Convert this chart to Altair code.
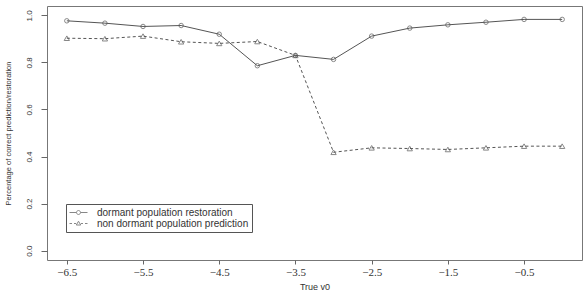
import altair as alt
import pandas as pd

# ---- data ----
true_v0 = [-6.5, -6.0, -5.5, -5.0, -4.5, -4.0, -3.5, -3.0, -2.5, -2.0, -1.5, -1.0, -0.5, 0.0]
restoration = [0.977, 0.967, 0.953, 0.957, 0.920, 0.786, 0.830, 0.813, 0.912, 0.946, 0.960, 0.971, 0.983, 0.983]
prediction = [0.903, 0.901, 0.912, 0.888, 0.881, 0.889, 0.830, 0.418, 0.437, 0.434, 0.430, 0.437, 0.444, 0.444]
series_names = ["dormant population restoration", "non dormant population prediction"]
x_ticks = [-6.5, -5.5, -4.5, -3.5, -2.5, -1.5, -0.5]
y_ticks = [0.0, 0.2, 0.4, 0.6, 0.8, 1.0]

df = pd.DataFrame({
    "x": true_v0 * 2,
    "y": restoration + prediction,
    "series": [series_names[0]] * len(true_v0) + [series_names[1]] * len(true_v0),
})

LINE = "#555555"
xs = alt.Scale(domain=[-6.76, 0.26], nice=False, zero=False)
ys = alt.Scale(domain=[-0.04, 1.04], nice=False, zero=False)

X = alt.X("x:Q", scale=xs, title="True v0",
          axis=alt.Axis(values=x_ticks, format=".1f", labelFont="Liberation Serif",
                        labelFontSize=11, tickSize=4, labelPadding=2, titleFont="Liberation Sans",
                        titleFontSize=9, titleFontWeight="normal", titlePadding=5))
Y = alt.Y("y:Q", scale=ys, title="Percentage of correct prediction/restoration",
          axis=alt.Axis(values=y_ticks, format=".1f", labelAngle=-90, labelAlign="center",
                        labelBaseline="bottom", labelFont="Liberation Sans", labelFontSize=8,
                        tickSize=6, labelPadding=8, titleFont="Liberation Sans", titleFontSize=7.5,
                        titleFontWeight="normal", titlePadding=13))

base = alt.Chart(df)

s1 = base.transform_filter(alt.datum.series == series_names[0])
s2 = base.transform_filter(alt.datum.series == series_names[1])

line1 = s1.mark_line(color=LINE, strokeWidth=1).encode(x=X, y=Y)
line2 = s2.mark_line(color=LINE, strokeWidth=1, strokeDash=[3, 2.5]).encode(x=X, y=Y)
pts1 = s1.mark_point(shape="circle", filled=False, color=LINE, size=20, strokeWidth=1).encode(x=X, y=Y)
pts2 = s2.mark_point(shape="triangle-up", filled=False, color=LINE, size=28, strokeWidth=1).encode(x=X, y=Y)

# legend symbols: line + marker glyphs, like R's type="o" legend keys
sym_solid = "M-1.8,0H-0.4M0.4,0H1.8M0.4,0A0.4,0.4,0,1,1,-0.4,0A0.4,0.4,0,1,1,0.4,0"
sym_dash = "M-1.8,0H-1.3M-0.9,0H-0.5M0.5,0H0.9M1.3,0H1.8M0,-0.45L0.45,0.3L-0.45,0.3Z"

legend_layer = base.transform_filter("false").mark_point(filled=False, color=LINE, strokeWidth=1).encode(
    x=X, y=Y,
    shape=alt.Shape("series:N", scale=alt.Scale(domain=series_names, range=[sym_solid, sym_dash]),
                    legend=alt.Legend(title=None, orient="none", legendX=19, legendY=198,
                                      padding=3, strokeColor="#555555", symbolOffset=4,
                                      symbolSize=100, symbolStrokeWidth=1, symbolStrokeColor=LINE,
                                      labelFont="Liberation Sans", labelFontSize=10,
                                      labelColor="#333333", labelOffset=13, rowPadding=0,
                                      labelLimit=400, labelExpr="datum.label + '  '")),
)

chart = alt.layer(line1, line2, pts1, pts2, legend_layer).properties(
    width=535, height=254,
    autosize=alt.AutoSizeParams(type="none"),
    padding={"left": 47, "top": 6, "right": 4, "bottom": 47},
    background="white",
).configure_view(stroke="#777777", strokeWidth=1).configure_axis(
    grid=False, domain=False, tickColor="#666666", labelColor="#333333", titleColor="#333333"
)

chart.save("out.html", embed_options={"renderer": "svg", "actions": False})
